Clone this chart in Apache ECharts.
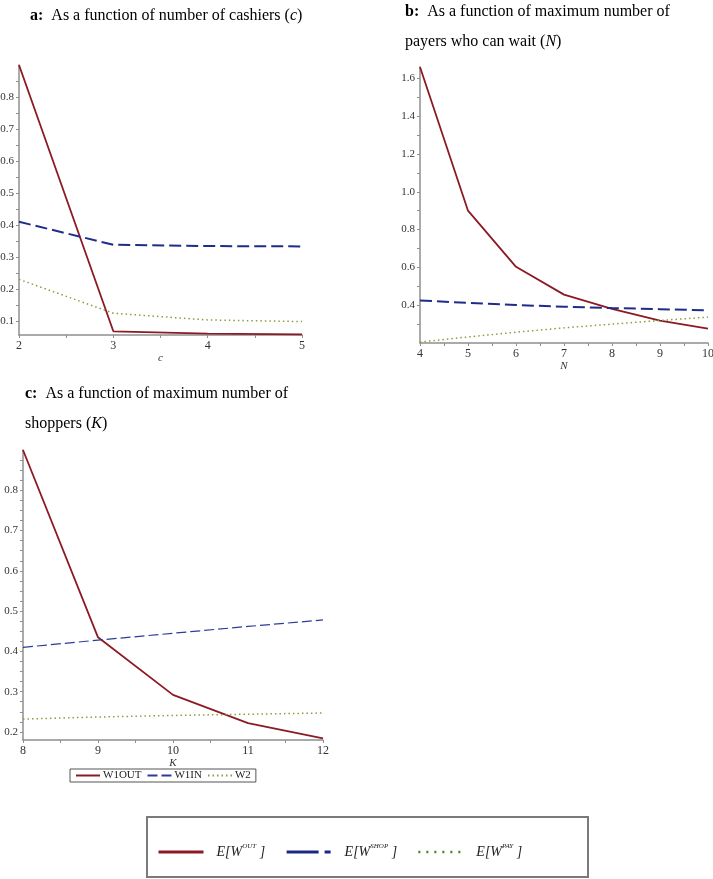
<!DOCTYPE html>
<html>
<head>
<meta charset="utf-8">
<script src="https://cdn.jsdelivr.net/npm/echarts@6/dist/echarts.min.js"></script>
<style>
  html, body { margin: 0; padding: 0; background: #fff; }
  #chart { width: 713px; height: 879px; }
</style>
</head>
<body>
<div id="chart"></div>
<script>
// a: number of cashiers c
const cashiers = [2, 3, 4, 5];
const outByC = [0.9, 0.0675, 0.06, 0.058];
const shopByC = [0.41, 0.338, 0.334, 0.333];
const payByC = [0.23, 0.124, 0.103, 0.098];

// b: max payers who can wait N
const payersN = [4, 5, 6, 7, 8, 9, 10];
const outByN = [1.66, 0.9, 0.603, 0.456, 0.38, 0.318, 0.276];
const shopByN = [0.425, 0.412, 0.401, 0.392, 0.385, 0.379, 0.373];
const payByN = [0.205, 0.232, 0.257, 0.28, 0.3, 0.319, 0.337];

// c: max shoppers K
const shoppersK = [8, 9, 10, 11, 12];
const outByK = [0.9, 0.435, 0.292, 0.222, 0.184];
const shopByK = [0.41, 0.428, 0.445, 0.462, 0.478];
const payByK = [0.232, 0.237, 0.241, 0.244, 0.247];

// tick labels / tick marks
const yLabelsA = [0.1, 0.2, 0.3, 0.4, 0.5, 0.6, 0.7, 0.8];
const yTicksA = [0.1, 0.15, 0.2, 0.25, 0.3, 0.35, 0.4, 0.45, 0.5, 0.55, 0.6, 0.65, 0.7, 0.75, 0.8, 0.85];
const xTicksA = [2, 2.5, 3, 3.5, 4, 4.5, 5];
const yLabelsB = [0.4, 0.6, 0.8, 1.0, 1.2, 1.4, 1.6];
const yTicksB = [0.3, 0.4, 0.5, 0.6, 0.7, 0.8, 0.9, 1.0, 1.1, 1.2, 1.3, 1.4, 1.5, 1.6];
const xTicksB = [4, 4.5, 5, 5.5, 6, 6.5, 7, 7.5, 8, 8.5, 9, 9.5, 10];
const yLabelsC = [0.2, 0.3, 0.4, 0.5, 0.6, 0.7, 0.8];
const yTicksC = [0.2, 0.225, 0.25, 0.275, 0.3, 0.325, 0.35, 0.375, 0.4, 0.425, 0.45, 0.475, 0.5, 0.525, 0.55, 0.575,
  0.6, 0.625, 0.65, 0.675, 0.7, 0.725, 0.75, 0.775, 0.8, 0.825, 0.85, 0.875];
const xTicksC = [8, 8.5, 9, 9.5, 10, 10.5, 11, 11.5, 12];

const RED = '#8b1a24';
const BLUE = '#1f2d88';
const GREEN = '#8d9c3f';
const SERIF = '"Liberation Serif", "DejaVu Serif", serif';

const pairs = (xs, ys) => xs.map((x, i) => [x, ys[i]]);

function xAxis(grid, min, max, labels, ticks, name) {
    return {
        type: 'value', gridIndex: grid, min: min, max: max,
        name: name, nameLocation: 'middle', nameGap: 15,
        nameTextStyle: { fontFamily: SERIF, fontStyle: 'italic', fontSize: 11, color: '#333' },
        axisLine: { lineStyle: { color: '#8f8f8f', width: 1.5 } },
        axisTick: { customValues: ticks, length: 3, lineStyle: { color: '#8f8f8f' } },
        axisLabel: { customValues: labels, margin: 5, fontFamily: SERIF, fontSize: 12, color: '#333' },
        splitLine: { show: false }
    };
}

function yAxis(grid, min, max, labels, ticks) {
    return {
        type: 'value', gridIndex: grid, min: min, max: max,
        axisLine: { show: true, lineStyle: { color: '#8f8f8f', width: 1.5 } },
        axisTick: { show: true, customValues: ticks, length: 3, lineStyle: { color: '#8f8f8f' } },
        axisLabel: {
            customValues: labels, margin: 5, fontFamily: SERIF, fontSize: 11, color: '#333',
            formatter: v => v.toFixed(1)
        },
        splitLine: { show: false }
    };
}

function lines(idx, xs, out, shop, pay, names, thin) {
    return [
        { name: names[0], type: 'line', xAxisIndex: idx, yAxisIndex: idx, data: pairs(xs, out),
          symbol: 'none', lineStyle: { color: RED, width: 1.8 }, itemStyle: { color: RED } },
        { name: names[1], type: 'line', xAxisIndex: idx, yAxisIndex: idx, data: pairs(xs, shop),
          symbol: 'none', itemStyle: { color: BLUE },
          lineStyle: thin ? { color: '#2c3c98', width: 1.2, type: [10, 4] } : { color: BLUE, width: 2, type: [12, 5] } },
        { name: names[2], type: 'line', xAxisIndex: idx, yAxisIndex: idx, data: pairs(xs, pay),
          symbol: 'none', lineStyle: { color: GREEN, width: 1.5, type: [1.5, 3] }, itemStyle: { color: GREEN } }
    ];
}

const titleRich = {
    b: { fontWeight: 'bold', fontFamily: SERIF, fontSize: 16, color: '#000', lineHeight: 30 },
    i: { fontStyle: 'italic', fontFamily: SERIF, fontSize: 16, color: '#000', lineHeight: 30 }
};
const titleStyle = { fontFamily: SERIF, fontSize: 16, fontWeight: 'normal', color: '#000', lineHeight: 30, rich: titleRich };

const supRich = {
    e: { fontFamily: SERIF, fontStyle: 'italic', fontSize: 14, color: '#222', lineHeight: 18 },
    s: { fontFamily: SERIF, fontStyle: 'italic', fontSize: 7, color: '#222', lineHeight: 18, verticalAlign: 'top', padding: [0, 0, 6, 0] }
};
const supLabel = { OUT: 'OUT', SHOP: 'SHOP', PAY: 'PAY' };

const chart = echarts.init(document.getElementById('chart'));
chart.setOption({
    backgroundColor: '#fff',
    animation: false,
    title: [
        { text: '{b|a:}  As a function of number of cashiers ({i|c})', left: 30, top: 1, padding: 0, textStyle: titleStyle },
        { text: '{b|b:}  As a function of maximum number of\npayers who can wait ({i|N})', left: 405, top: -3, padding: 0, textStyle: titleStyle },
        { text: '{b|c:}  As a function of maximum number of\nshoppers ({i|K})', left: 25, top: 379, padding: 0, textStyle: titleStyle }
    ],
    grid: [
        { left: 19, top: 65, width: 283, height: 270, outerBoundsMode: 'none' },
        { left: 420, top: 67, width: 288, height: 276, outerBoundsMode: 'none' },
        { left: 23, top: 450, width: 300, height: 290, outerBoundsMode: 'none' }
    ],
    xAxis: [
        xAxis(0, 2, 5, cashiers, xTicksA, 'c'),
        xAxis(1, 4, 10, payersN, xTicksB, 'N'),
        xAxis(2, 8, 12, shoppersK, xTicksC, 'K')
    ],
    yAxis: [
        yAxis(0, 0.056, 0.9, yLabelsA, yTicksA),
        yAxis(1, 0.2, 1.66, yLabelsB, yTicksB),
        yAxis(2, 0.18, 0.9, yLabelsC, yTicksC)
    ],
    legend: [
        {
            data: ['W1OUT', 'W1IN', 'W2'], left: 70, top: 769, padding: [1, 5],
            borderColor: '#555', borderWidth: 1, itemWidth: 24, itemHeight: 10, itemGap: 5,
            itemStyle: { opacity: 0 },
            textStyle: { fontFamily: SERIF, fontSize: 11, color: '#222', padding: [0, 0, 0, -2] }
        },
        {
            data: [
                { name: 'OUT', lineStyle: { color: RED, width: 3, type: 'solid' } },
                { name: 'SHOP', lineStyle: { color: '#1a2a80', width: 3, type: [32, 6, 6, 200] } },
                { name: 'PAY', lineStyle: { color: '#4f7f1f', width: 2.5, type: [2, 6] } }
            ],
            left: 152, top: 838, itemWidth: 45, itemHeight: 18, itemGap: 20,
            itemStyle: { opacity: 0 },
            formatter: n => '{e|E[W}{s|' + supLabel[n] + '}{e| ]}',
            textStyle: { rich: supRich, padding: [0, 0, 0, 8] }
        }
    ],
    graphic: [
        { type: 'rect', shape: { x: 147, y: 817, width: 441, height: 60 },
          style: { fill: 'none', stroke: '#7a7a7a', lineWidth: 2 } }
    ],
    series: [
        ...lines(0, cashiers, outByC, shopByC, payByC, ['OUT', 'SHOP', 'PAY'], false),
        ...lines(1, payersN, outByN, shopByN, payByN, ['OUT', 'SHOP', 'PAY'], false),
        ...lines(2, shoppersK, outByK, shopByK, payByK, ['W1OUT', 'W1IN', 'W2'], true)
    ]
});
</script>
</body>
</html>
